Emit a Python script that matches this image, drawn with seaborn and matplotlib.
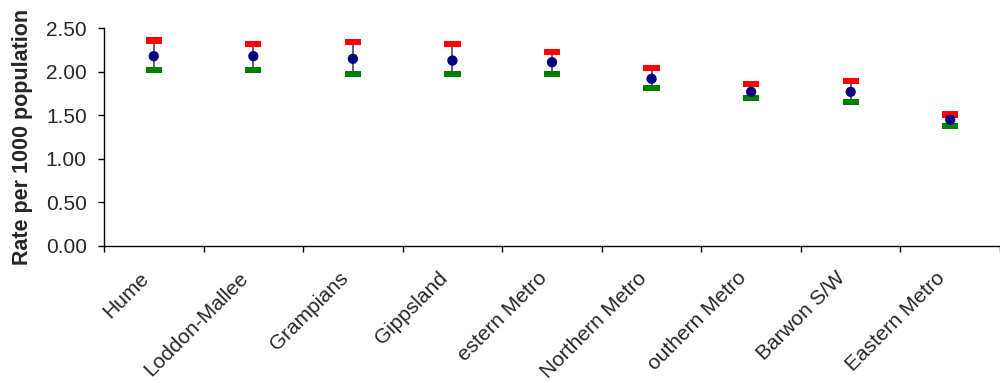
import matplotlib
matplotlib.use("Agg")
import matplotlib.pyplot as plt
import seaborn as sns
import pandas as pd
import numpy as np

regions = ["Hume", "Loddon-Mallee", "Grampians", "Gippsland", "estern Metro",
           "Northern Metro", "outhern Metro", "Barwon S/W", "Eastern Metro"]
rate = [2.18, 2.18, 2.15, 2.13, 2.11, 1.92, 1.77, 1.77, 1.45]
upper = [2.36, 2.32, 2.34, 2.32, 2.23, 2.04, 1.86, 1.90, 1.51]
lower = [2.02, 2.02, 1.97, 1.97, 1.97, 1.81, 1.70, 1.65, 1.38]
yticks = [0.0, 0.5, 1.0, 1.5, 2.0, 2.5]

sns.set_style("white")
plt.rcParams["font.family"] = ["Liberation Sans", "DejaVu Sans"]

df = pd.DataFrame({"region": regions, "rate": rate, "upper": upper, "lower": lower})
df["pos"] = np.arange(len(regions))

fig = plt.figure(figsize=(10, 3.83), dpi=100)
ax = fig.add_axes([0.104, 0.358, 0.896, 0.568])

ax.vlines(df["pos"], df["lower"], df["upper"], color="#555555", lw=1.3, zorder=1)
bar = [(-8, -3), (8, -3), (8, 3), (-8, 3)]
sns.scatterplot(data=df, x="pos", y="upper", marker=bar, s=135, color="#ff0000",
                edgecolor="none", ax=ax, zorder=3)
sns.scatterplot(data=df, x="pos", y="lower", marker=bar, s=135, color="#008000",
                edgecolor="none", ax=ax, zorder=3)
sns.scatterplot(data=df, x="pos", y="rate", marker="o", s=55, color="#000080",
                edgecolor="none", ax=ax, zorder=4)

ax.set_xlim(-0.5, 8.407)
ax.set_ylim(0, 2.5)
ax.set_yticks(yticks)
ax.set_yticklabels([f"{v:.2f}" for v in yticks], fontsize=15)
# label anchors sit slightly left of category centres, as in the source chart
ax.set_xticks(df["pos"] - 0.08)
ax.set_xticklabels(regions, rotation=45, ha="right", va="center",
                   rotation_mode="anchor", fontsize=15)
ax.set_xticks(np.arange(-0.5, 9, 1.0), minor=True)
ax.tick_params(axis="x", which="major", length=0, pad=21)
ax.tick_params(axis="x", which="minor", length=4.5, width=1, direction="out", bottom=True, color="black")
ax.tick_params(axis="y", length=4.5, width=1, direction="out", left=True, color="black", pad=8)
ax.set_xlabel("")
ax.set_ylabel("Rate per 1000 population", fontsize=15.5, fontweight="bold", labelpad=9)
for s in ["top", "right"]:
    ax.spines[s].set_visible(False)
for s in ["left", "bottom"]:
    ax.spines[s].set_color("black")
    ax.spines[s].set_linewidth(1)

fig.savefig("out.png", dpi=100)
